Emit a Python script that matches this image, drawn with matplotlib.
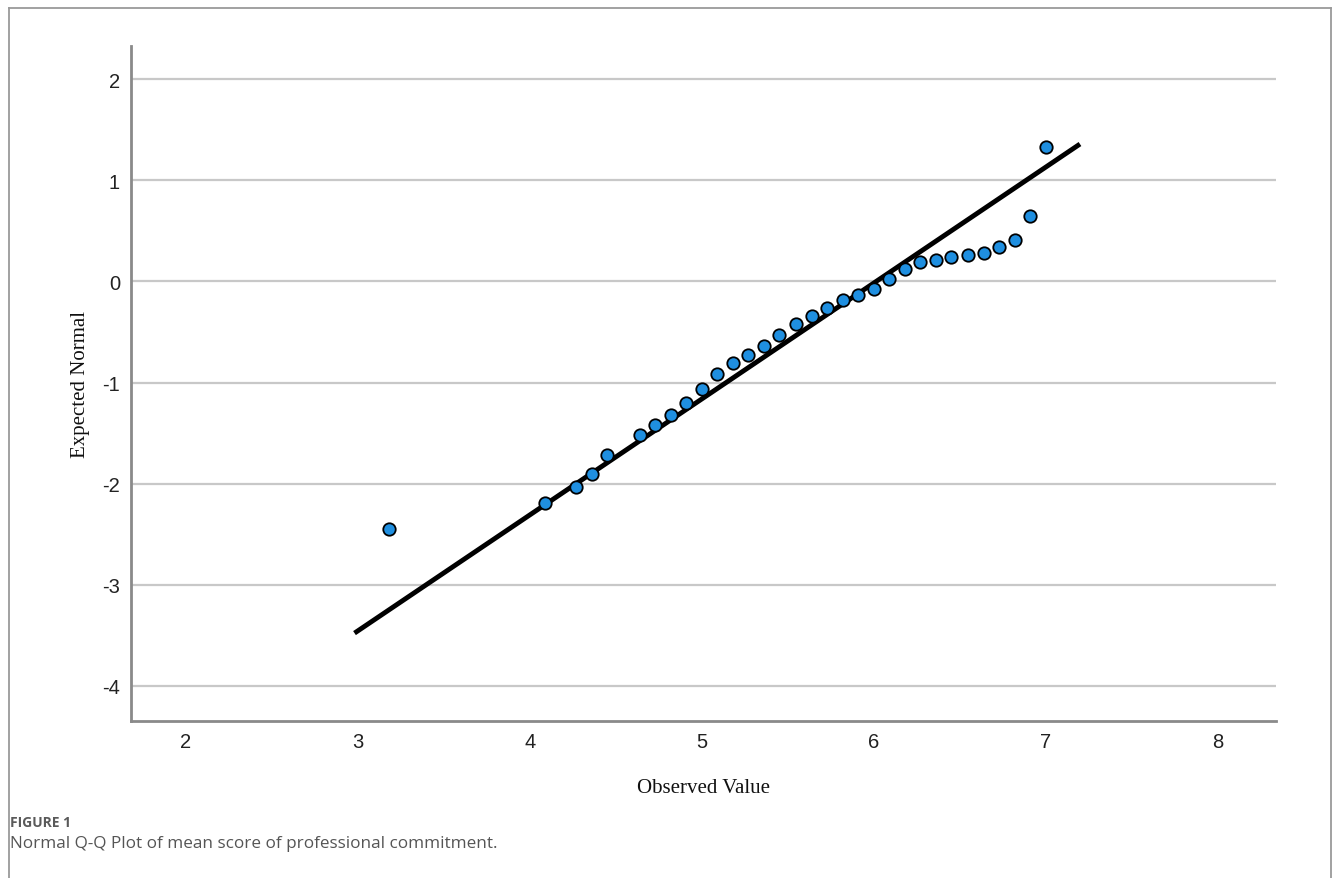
import matplotlib
matplotlib.use('Agg')
import matplotlib.pyplot as plt
from matplotlib.lines import Line2D

plt.rcParams['axes.unicode_minus'] = False

# observed mean scores and their expected normal values
observed = [3.18, 4.09, 4.27, 4.36, 4.45, 4.64, 4.73, 4.82, 4.91, 5.00,
            5.09, 5.18, 5.27, 5.36, 5.45, 5.55, 5.64, 5.73, 5.82, 5.91,
            6.00, 6.09, 6.18, 6.27, 6.36, 6.45, 6.55, 6.64, 6.73, 6.82,
            6.91, 7.00]
expected = [-2.45, -2.19, -2.03, -1.91, -1.72, -1.52, -1.42, -1.32, -1.20, -1.06,
            -0.92, -0.81, -0.73, -0.64, -0.53, -0.42, -0.34, -0.26, -0.18, -0.13,
            -0.07, 0.02, 0.12, 0.19, 0.21, 0.24, 0.26, 0.28, 0.34, 0.41,
            0.65, 1.33]
# reference line end points
line_x = [2.98, 7.20]
line_y = [-3.48, 1.36]

x_ticks = [2, 3, 4, 5, 6, 7, 8]
y_ticks = [2, 1, 0, -1, -2, -3, -4]

fig = plt.figure(figsize=(13.33, 8.79), dpi=100)
ax = fig.add_axes([0.0983, 0.1786, 0.8589, 0.7679])

ax.set_xlim(1.68, 8.34)
ax.set_ylim(-4.35, 2.33)
ax.set_xticks(x_ticks)
ax.set_yticks(y_ticks)
ax.yaxis.grid(True, color='#c8c8c8', linewidth=1.6)
ax.set_axisbelow(True)
ax.tick_params(length=0, labelsize=14.5, pad=8, labelcolor='#222222')
for lab in ax.get_xticklabels() + ax.get_yticklabels():
	lab.set_family('Liberation Sans')
for s in ['top', 'right']:
	ax.spines[s].set_visible(False)
for s in ['left', 'bottom']:
	ax.spines[s].set_color('#8a8a8a')
	ax.spines[s].set_linewidth(2)

ax.plot(line_x, line_y, color='black', linewidth=3.5, solid_capstyle='butt', zorder=2)
ax.scatter(observed, expected, s=80, color='#1f8fe0', edgecolor='black', linewidth=1.3, zorder=3)

ax.set_xlabel('Observed Value', family='Liberation Serif', fontsize=15, labelpad=19, color='#111111')
ax.set_ylabel('Expected Normal', family='Liberation Serif', fontsize=15, labelpad=9, color='#111111')

# outer frame of the figure panel
fx0, fx1, fy = 9 / 1333, 1331 / 1333, 1 - 9 / 879
fig.add_artist(Line2D([fx0, fx0], [0, fy], color='#9a9a9a', linewidth=1.3))
fig.add_artist(Line2D([fx0, fx1], [fy, fy], color='#9a9a9a', linewidth=1.3))
fig.add_artist(Line2D([fx1, fx1], [0, fy], color='#9a9a9a', linewidth=1.3))

fig.text(10 / 1333, 1 - 823 / 879, 'FIGURE 1', family='Open Sans', fontsize=10, fontweight='bold',
	color='#5a5a5a', va='center', ha='left')
fig.text(10 / 1333, 1 - 844 / 879, 'Normal Q-Q Plot of mean score of professional commitment.',
	family='Open Sans', fontsize=12.3, color='#555555', va='center', ha='left')

fig.savefig('out.png', dpi=100)
